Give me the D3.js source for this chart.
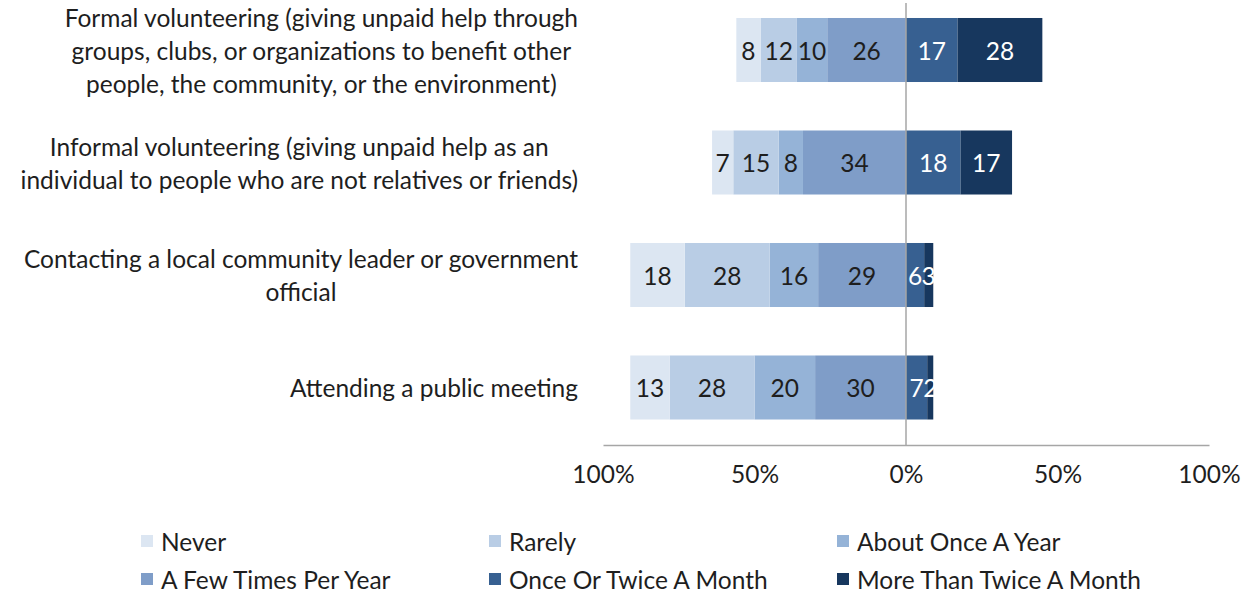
<!DOCTYPE html>
<html>
<head>
<meta charset="utf-8">
<script src="https://cdn.jsdelivr.net/npm/d3@7"></script>
<style>
  html, body { margin: 0; padding: 0; background: #ffffff; }
  svg { display: block; font-family: Lato, "Open Sans", sans-serif; }
</style>
</head>
<body>
<svg id="chart" width="1249" height="595"></svg>
<script>
// Activities, each label split into its display lines
const activities = [
  "Formal volunteering",
  "Informal volunteering",
  "Contacting a local community leader",
  "Attending a public meeting"
];
const activityLines = [
  ["Formal volunteering (giving unpaid help through", "groups, clubs, or organizations to benefit other", "people, the community, or the environment)"],
  ["Informal volunteering (giving unpaid help as an", "individual to people who are not relatives or friends)"],
  ["Contacting a local community leader or government", "official"],
  ["Attending a public meeting"]
];

// Response frequencies (percent of respondents)
const frequencies = ["Never", "Rarely", "About Once A Year", "A Few Times Per Year", "Once Or Twice A Month", "More Than Twice A Month"];
const never           = [8, 7, 18, 13];
const rarely          = [12, 15, 28, 28];
const oncePerYear     = [10, 8, 16, 20];
const fewTimesPerYear = [26, 34, 29, 30];
const onceTwiceMonth  = [17, 18, 6, 7];
const moreThanTwice   = [28, 17, 3, 2];

const tickValues = [-100, -50, 0, 50, 100];

const colors = ["#dce6f2", "#b9cde5", "#95b3d7", "#7f9dc8", "#376091", "#17375e"];
const textColors = ["#1e1e1e", "#1e1e1e", "#1e1e1e", "#1e1e1e", "#ffffff", "#ffffff"];

const svg = d3.select("#chart");
const fontSize = 24.5;

const x = d3.scaleLinear().domain([-100, 100]).range([603, 1209]);
const y = d3.scaleBand().domain(activities).range([-6.25, 443.75]).paddingInner(0.431).paddingOuter(0.2155);

// Segment layout: the four infrequent answers stack leftwards from zero,
// the two monthly answers stack rightwards.
const series = [never, rarely, oncePerYear, fewTimesPerYear, onceTwiceMonth, moreThanTwice];
const segments = [];
activities.forEach((act, i) => {
  let left = 0;
  for (let k = 3; k >= 0; k--) {
    const v = series[k][i];
    segments.push({ act, k, v, x0: left - v, x1: left });
    left -= v;
  }
  let right = 0;
  for (let k = 4; k <= 5; k++) {
    const v = series[k][i];
    segments.push({ act, k, v, x0: right, x1: right + v });
    right += v;
  }
});

svg.append("g").selectAll("rect")
  .data(segments)
  .join("rect")
  .attr("x", d => x(d.x0))
  .attr("width", d => x(d.x1) - x(d.x0))
  .attr("y", d => y(d.act))
  .attr("height", y.bandwidth())
  .attr("fill", d => colors[d.k]);

svg.append("g").selectAll("text")
  .data(segments)
  .join("text")
  .attr("x", d => (x(d.x0) + x(d.x1)) / 2)
  .attr("y", d => y(d.act) + y.bandwidth() / 2)
  .attr("text-anchor", "middle")
  .attr("dominant-baseline", "central")
  .attr("font-size", fontSize)
  .attr("fill", d => textColors[d.k])
  .text(d => d.v);

// Zero line
svg.append("line")
  .attr("x1", x(0)).attr("x2", x(0))
  .attr("y1", 3).attr("y2", 445)
  .attr("stroke", "#a6a6a6").attr("stroke-width", 1.5);

// Bottom axis
const axis = svg.append("g")
  .attr("transform", "translate(0,445)")
  .call(d3.axisBottom(x).tickValues(tickValues).tickSize(0).tickPadding(21)
    .tickFormat(d => Math.abs(d) + "%"));
axis.select(".domain").attr("stroke", "#a6a6a6").attr("stroke-width", 1.5);
axis.selectAll("text")
  .attr("font-size", fontSize)
  .attr("font-family", "Lato, 'Open Sans', sans-serif")
  .attr("fill", "#1e1e1e");

// Category labels: block right-aligned, lines centred within the block
const labelRight = 578;
const lineGap = 33;
const labelG = svg.append("g");
activities.forEach((act, i) => {
  const lines = activityLines[i];
  const cy = y(act) + y.bandwidth() / 2;
  const g = labelG.append("g");
  const texts = lines.map((ln, j) => g.append("text")
    .attr("y", cy + (j - (lines.length - 1) / 2) * lineGap)
    .attr("dominant-baseline", "central")
    .attr("text-anchor", "middle")
    .attr("font-size", fontSize)
    .attr("fill", "#1e1e1e")
    .text(ln));
  const maxW = d3.max(texts, t => t.node().getComputedTextLength());
  texts.forEach(t => t.attr("x", labelRight - maxW / 2));
});

// Legend
const legendCols = [141, 489, 837];
const legendRows = [541, 579];
const legend = svg.append("g").selectAll("g")
  .data(frequencies)
  .join("g")
  .attr("transform", (d, i) => `translate(${legendCols[i % 3]},${legendRows[Math.floor(i / 3)]})`);
legend.append("rect")
  .attr("x", 0).attr("y", -6).attr("width", 12).attr("height", 12)
  .attr("fill", (d, i) => colors[i]);
legend.append("text")
  .attr("x", 20)
  .attr("y", 0)
  .attr("dominant-baseline", "central")
  .attr("font-size", fontSize)
  .attr("fill", "#1e1e1e")
  .text(d => d);
</script>
</body>
</html>
